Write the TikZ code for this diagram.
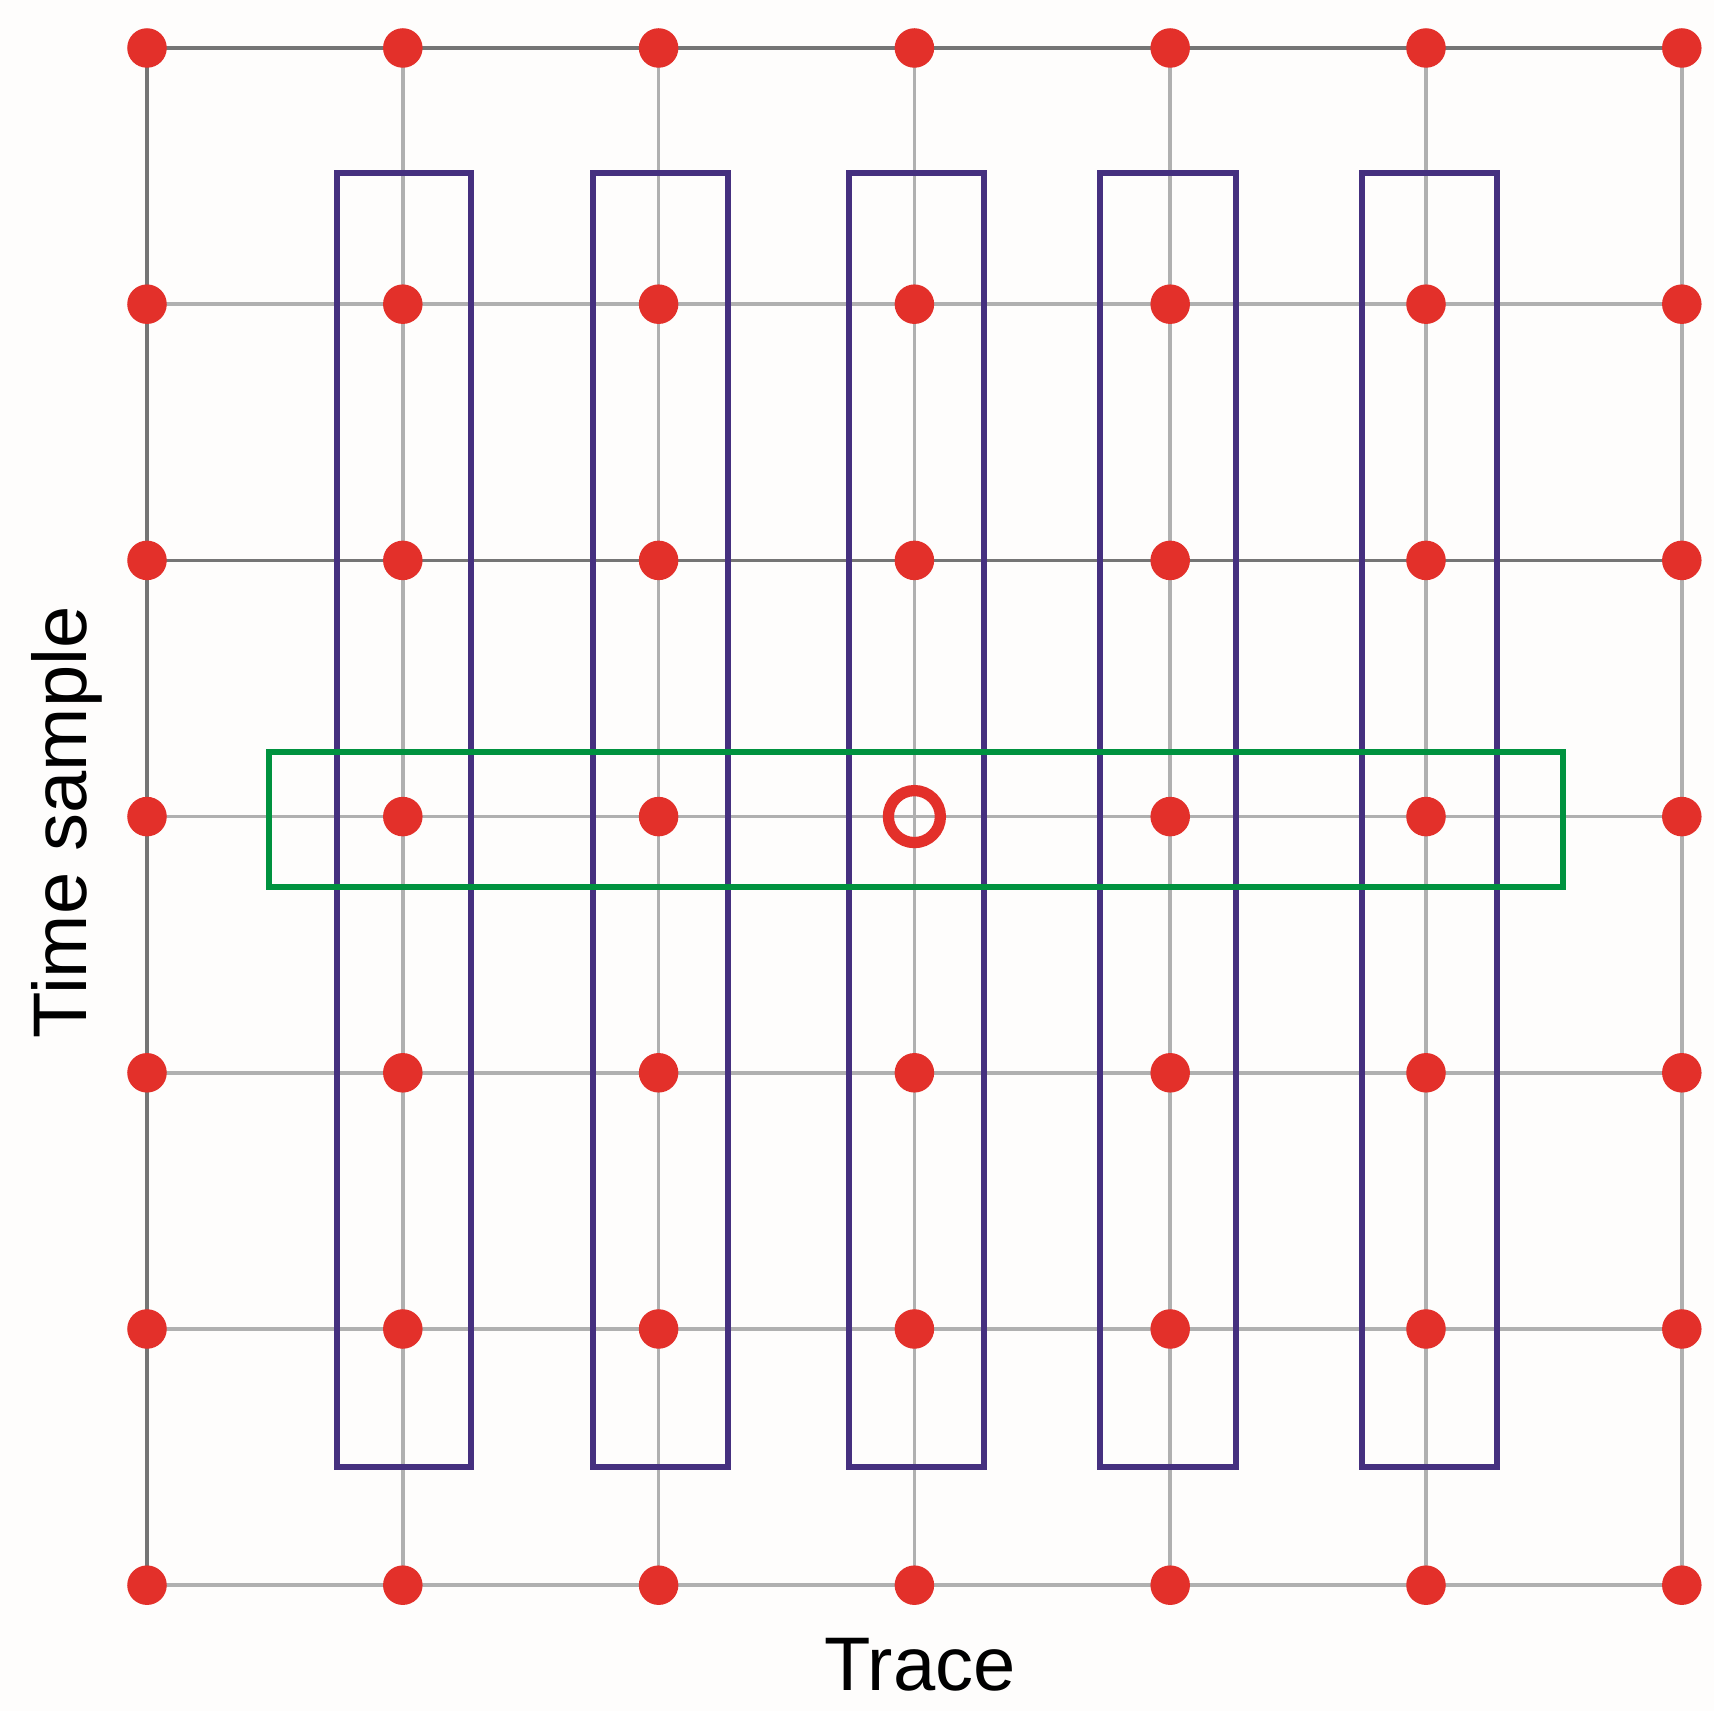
\documentclass[tikz,border=0pt]{standalone}
\usepackage{fontspec}
\setmainfont{Liberation Sans}
\definecolor{dotred}{HTML}{E3302A}
\definecolor{boxpurple}{HTML}{45307F}
\definecolor{boxgreen}{HTML}{00923F}
\definecolor{darkline}{HTML}{757575}
\definecolor{lightline}{HTML}{B0B0B0}
\definecolor{bgwhite}{HTML}{FEFDFC}
\tikzset{
  darkgrid/.style={draw=darkline, line width=0.95pt},
  lightgrid/.style={draw=lightline, line width=1pt},
  dot/.style={circle, fill=dotred, inner sep=0pt, minimum size=0.395cm},
  ring/.style={circle, draw=dotred, line width=3.2pt, inner sep=0pt, minimum size=0.52cm},
  purplebox/.style={draw=boxpurple, line width=1.6pt},
  greenbox/.style={draw=boxgreen, line width=1.6pt},
  axislabel/.style={inner sep=0pt, font=\fontsize{21.6}{25}\selectfont, text=black}
}
\begin{document}
\begin{tikzpicture}[x=0.01cm, y=0.01cm]
\fill[bgwhite] (0,0) rectangle (1714,1711);
\useasboundingbox (0,0) rectangle (1714,1711);
% grid coordinates
\foreach \i in {0,...,6} {
  \foreach \j in {0,...,6} {
    \coordinate (p-\i-\j) at ({147+255.8*\i},{1711-(48+256.2*\j)});
  }
}
% grid lines
\foreach \j in {1,3,4,5,6} { \draw[lightgrid] (p-0-\j) -- (p-6-\j); }
\foreach \i in {1,...,6} { \draw[lightgrid] (p-\i-0) -- (p-\i-6); }
\foreach \j in {0,2} { \draw[darkgrid] (p-0-\j) -- (p-6-\j); }
\draw[darkgrid] (p-0-0) -- (p-0-6);
% purple windows
\draw[purplebox] (337,{1711-172.7}) rectangle (471,{1711-1466.7});
\draw[purplebox] (593,{1711-172.7}) rectangle (728,{1711-1466.7});
\draw[purplebox] (849,{1711-172.7}) rectangle (984,{1711-1466.7});
\draw[purplebox] (1100,{1711-172.7}) rectangle (1236,{1711-1466.7});
\draw[purplebox] (1362,{1711-172.7}) rectangle (1497,{1711-1466.7});
% green window
\draw[greenbox] (269,{1711-752.3}) rectangle (1563,{1711-886.7});
% dots
\foreach \i in {0,...,6} {
  \foreach \j in {0,...,6} {
    \ifnum\i=3 \ifnum\j=3 \else \node[dot] (d-\i-\j) at (p-\i-\j) {}; \fi
    \else \node[dot] (d-\i-\j) at (p-\i-\j) {}; \fi
  }
}
\node[ring] (center) at (p-3-3) {};
% labels
\node[axislabel, anchor=base] (trace) at (920,{1711-1691}) {Trace};
\node[axislabel, anchor=base, rotate=90] (time) at (87,{1711-822.5}) {Time sample};
\end{tikzpicture}
\end{document}
